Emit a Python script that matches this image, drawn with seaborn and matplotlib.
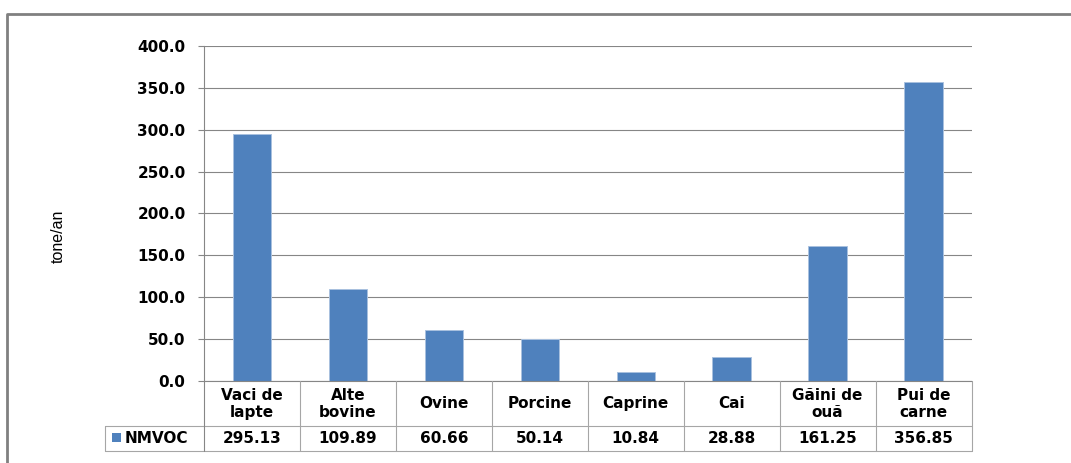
import matplotlib
matplotlib.use("Agg")
import matplotlib.pyplot as plt
from matplotlib.lines import Line2D
from matplotlib.patches import Rectangle
import pandas as pd
import seaborn as sns

# Emisii NMVOC pe categorii de animale
categories = ["Vaci de\nlapte", "Alte\nbovine", "Ovine", "Porcine", "Caprine",
              "Cai", "Găini de\nouă", "Pui de\ncarne"]
values = [295.13, 109.89, 60.66, 50.14, 10.84, 28.88, 161.25, 356.85]
series_name = "NMVOC"
y_ticks = [0, 50, 100, 150, 200, 250, 300, 350, 400]
y_label = "tone/an"

BAR = "#4F81BD"
GRID = "#868686"
TABLE = "#A6A6A6"

sns.set_theme(style="white")
plt.rcParams["font.family"] = ["DejaVu Sans"]

W, H = 1071, 463
fig = plt.figure(figsize=(W / 100, H / 100), dpi=100)
fig.patch.set_facecolor("white")


def fx(px):
    return px / W


def fy(py):
    return 1 - py / H


# plot area in pixel terms
x0, x1 = 204, 971.5
y_top, y_zero = 46, 381
ax = fig.add_axes([fx(x0), fy(y_zero), fx(x1 - x0), (y_zero - y_top) / H])

df = pd.DataFrame({"cat": categories, "val": values})
sns.barplot(data=df, x="cat", y="val", color=BAR, width=0.4, ax=ax,
            edgecolor="#A9C1DF", linewidth=0.7, saturation=1)
ax.set_xlim(-0.5, len(categories) - 0.5)
ax.set_ylim(0, 400)
ax.set_yticks(y_ticks)
ax.set_yticklabels([f"{v:.1f}" for v in y_ticks], fontsize=11, fontweight="bold",
                   color="black")
ax.set_xticks([])
ax.set_xlabel("")
ax.set_ylabel("")
ax.yaxis.grid(True, color=GRID, linewidth=0.8)
ax.set_axisbelow(True)
ax.tick_params(axis="y", direction="out", length=4.3, width=0.8, color=GRID,
               pad=9, left=True)
for s in ["top", "right", "bottom"]:
    ax.spines[s].set_visible(False)
ax.spines["left"].set_color(GRID)
ax.spines["left"].set_linewidth(0.8)

# data table below the axis
step = (x1 - x0) / len(categories)
row1, row2 = 425.5, 451
leg_left = 105
lw_t = 0.8


def hline(y, xa, xb, color):
    fig.add_artist(Line2D([fx(xa), fx(xb)], [fy(y), fy(y)], color=color, lw=lw_t))


def vline(x, ya, yb, color):
    fig.add_artist(Line2D([fx(x), fx(x)], [fy(ya), fy(yb)], color=color, lw=lw_t))


hline(y_zero, x0, x1, GRID)
hline(row1, leg_left, x1, TABLE)
hline(row2, leg_left, x1, TABLE)
vline(leg_left, row1, row2, TABLE)
vline(x0, y_zero, row2, GRID)
for k in range(1, len(categories) + 1):
    vline(x0 + k * step, y_zero, row2, TABLE)

for i, (cat, val) in enumerate(zip(categories, values)):
    cx = x0 + (i + 0.5) * step
    fig.text(fx(cx), fy((y_zero + row1) / 2 + 0.5), cat, ha="center", va="center",
             fontsize=11, fontweight="bold", linespacing=1.15, color="black")
    fig.text(fx(cx), fy((row1 + row2) / 2 + 0.5), f"{val:.2f}", ha="center",
             va="center", fontsize=11, fontweight="bold", color="black")

fig.add_artist(Rectangle((fx(111.7), fy(442.3)), fx(9), 9.6 / H,
                         facecolor=BAR, edgecolor="none"))
fig.text(fx(125), fy((row1 + row2) / 2 + 0.5), series_name, ha="left",
         va="center", fontsize=11, fontweight="bold", color="black")

# axis title
fig.text(fx(58), fy(236), y_label, rotation=90, ha="center", va="center",
         fontsize=11.5, family=["Liberation Sans", "DejaVu Sans"], color="black")

# chart border
fig.add_artist(Line2D([fx(7), fx(7), fx(W + 5)], [fy(H + 5), fy(14), fy(14)],
                      color="#808080", lw=2))

fig.savefig("out.png", dpi=100)
